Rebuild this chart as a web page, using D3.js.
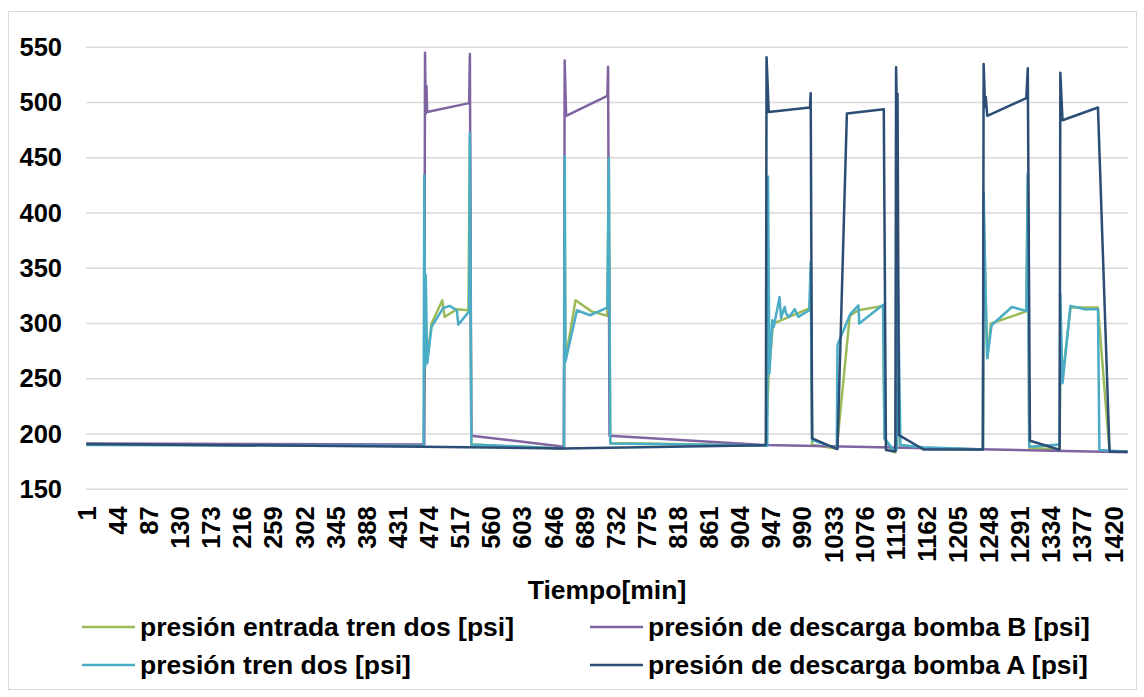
<!DOCTYPE html>
<html>
<head>
<meta charset="utf-8">
<script src="https://cdn.jsdelivr.net/npm/d3@7"></script>
<style>
  html, body { margin: 0; padding: 0; background: #fff; }
  svg { display: block; }
  text { font-family: "Liberation Sans", Arial, sans-serif; font-weight: bold; fill: #000; }
</style>
</head>
<body>
<svg id="chart" width="1144" height="697"></svg>
<script>
// ---- data (minute index, pressure psi) ----
const tickLabels = [1, 44, 87, 130, 173, 216, 259, 302, 345, 388, 431, 474, 517, 560, 603, 646, 689, 732, 775, 818, 861, 904, 947, 990, 1033, 1076, 1119, 1162, 1205, 1248, 1291, 1334, 1377, 1420];
const yTicks = [150, 200, 250, 300, 350, 400, 450, 500, 550];

const entradaT = [1, 467, 469, 472, 478, 493, 496, 513, 529, 531, 533, 660, 661, 662, 663, 677, 699, 721, 723, 725, 940, 944, 950, 1001, 1002, 1004, 1038, 1056, 1068, 1102, 1104, 1116, 1119, 1121, 1125, 1158, 1240, 1241, 1246, 1251, 1300, 1302, 1304, 1346, 1347, 1350, 1361, 1399, 1415, 1440];
const entradaV = [190.5, 189.5, 267, 267, 300, 321, 306, 313, 312, 470, 190.5, 187, 187.5, 440, 267, 321, 311, 307, 449, 192, 189.5, 255, 300, 314, 350, 190, 187, 307, 312, 316, 196, 184, 183.5, 323, 190, 187, 186, 400, 269, 300, 311, 434, 187.5, 186, 260, 250, 314.5, 314.5, 184, 184];

const bombaBT = [1, 467, 468, 469, 470, 471, 472, 530, 531, 533, 661, 662, 664, 721, 722, 724, 940, 1440];
const bombaBV = [191.5, 190.5, 190.5, 545, 490, 515, 491.5, 499.5, 544, 198.5, 188.5, 538, 488, 506, 532.5, 198.5, 190, 183.5];

const trenT = [1, 467, 468, 469, 470, 472, 478, 494, 503, 513, 515, 530, 531, 533, 660, 661, 662, 663, 679, 697, 721, 723, 725, 942, 943, 945, 949, 951, 959, 961, 966, 968, 972, 980, 985, 1000, 1002, 1004, 1038, 1039, 1056, 1058, 1068, 1069, 1102, 1104, 1116, 1121, 1122, 1126, 1158, 1240, 1241, 1244, 1246, 1252, 1280, 1300, 1302, 1304, 1346, 1347, 1350, 1361, 1381, 1399, 1401, 1440];
const trenV = [190, 189.5, 434, 260, 344, 264, 297, 314, 316, 312, 299, 311, 472, 190.5, 187, 187.5, 451.5, 265.5, 312, 307.5, 314.5, 449.5, 191.5, 189.5, 433, 255, 303, 297, 324, 305, 315, 309, 306, 313, 306, 312, 356, 194.5, 187, 280.5, 307.5, 309.5, 316.5, 300, 317, 196, 186, 186, 357.5, 190, 188, 186, 419, 318, 268.5, 298.5, 315, 311.5, 436, 188.5, 190.5, 327, 246, 316, 313, 313, 185.5, 184];

const bombaAT = [1, 467, 660, 940, 941, 944, 1001, 1002, 1004, 1038, 1039, 1052, 1103, 1106, 1116, 1119, 1120, 1121, 1122, 1124, 1158, 1240, 1241, 1243, 1244, 1246, 1300, 1302, 1305, 1345, 1346, 1347, 1350, 1399, 1415, 1440];
const bombaAV = [191, 188.5, 187, 190, 541, 491.5, 495.5, 508.5, 196, 186.5, 186.5, 490, 494, 185.5, 184.5, 184.5, 532, 495, 508, 199, 186, 186, 535, 496, 505, 488, 504, 531, 194, 186, 186, 527, 484, 495.5, 184, 184];

const seriesNames = ["presión entrada tren dos [psi]", "presión de descarga bomba B [psi]", "presión tren dos [psi]", "presión de descarga bomba A [psi]"];
const seriesColors = ["#9BBB59", "#8064A2", "#4BACC6", "#2C4D75"];

const series = [
  { name: seriesNames[0], color: seriesColors[0], pts: d3.zip(entradaT, entradaV) },
  { name: seriesNames[1], color: seriesColors[1], pts: d3.zip(bombaBT, bombaBV) },
  { name: seriesNames[2], color: seriesColors[2], pts: d3.zip(trenT, trenV) },
  { name: seriesNames[3], color: seriesColors[3], pts: d3.zip(bombaAT, bombaAV) }
];

// ---- layout ----
const svg = d3.select("#chart");
const plot = { left: 86, right: 1128, top: 47.3, bottom: 489.3 };

svg.append("rect").attr("x", 8.5).attr("y", 11.5).attr("width", 1128).attr("height", 678)
  .attr("fill", "#fff").attr("stroke", "#d9d9d9").attr("stroke-width", 1);

const x = d3.scaleLinear().domain([0.5, 1440.5]).range([plot.left, plot.right]);
const y = d3.scaleLinear().domain([150, 550]).range([plot.bottom, plot.top]);

// gridlines
svg.append("g").selectAll("line").data(yTicks).join("line")
  .attr("x1", plot.left).attr("x2", plot.right)
  .attr("y1", d => y(d)).attr("y2", d => y(d))
  .attr("stroke", "#d9d9d9").attr("stroke-width", 1.5);

// y axis labels
const yAxis = svg.append("g").attr("transform", `translate(${plot.left - 24},0)`)
  .call(d3.axisLeft(y).tickValues(yTicks).tickSize(0).tickPadding(0));
yAxis.select(".domain").remove();
yAxis.selectAll("text").style("font-size", "25.5px").style("font-family", "Liberation Sans, Arial, sans-serif").style("font-weight", "bold").attr("fill", "#000");

// x axis labels
const xAxis = svg.append("g").attr("transform", `translate(0,${plot.bottom})`)
  .call(d3.axisBottom(x).tickValues(tickLabels).tickSize(0).tickFormat(d3.format("d")));
xAxis.select(".domain").remove();
xAxis.selectAll("text")
  .style("font-size", "25.5px").style("font-family", "Liberation Sans, Arial, sans-serif").style("font-weight", "bold")
  .attr("fill", "#000")
  .attr("text-anchor", "end")
  .attr("transform", "rotate(-90)")
  .attr("x", -17).attr("y", 0).attr("dy", "0.35em");

// axis title
svg.append("text").attr("x", (plot.left + plot.right) / 2).attr("y", 599)
  .attr("text-anchor", "middle").style("font-size", "26.5px").text("Tiempo[min]");

// lines
const line = d3.line().x(d => x(d[0])).y(d => y(d[1]));
svg.append("g").selectAll("path").data(series).join("path")
  .attr("d", d => line(d.pts))
  .attr("fill", "none")
  .attr("stroke", d => d.color)
  .attr("stroke-width", 2.5)
  .attr("stroke-linejoin", "round");

// legend
const legendPos = [[82, 627], [590, 627], [82, 665], [590, 665]];
const lg = svg.append("g").selectAll("g").data(series).join("g")
  .attr("transform", (d, i) => `translate(${legendPos[i][0]},${legendPos[i][1]})`);
lg.append("line").attr("x1", 0).attr("x2", 53).attr("y1", 0).attr("y2", 0)
  .attr("stroke", d => d.color).attr("stroke-width", 2.5);
lg.append("text").attr("x", 58).attr("y", 0).attr("dy", "0.35em")
  .style("font-size", "26.5px").text(d => d.name);
</script>
</body>
</html>
